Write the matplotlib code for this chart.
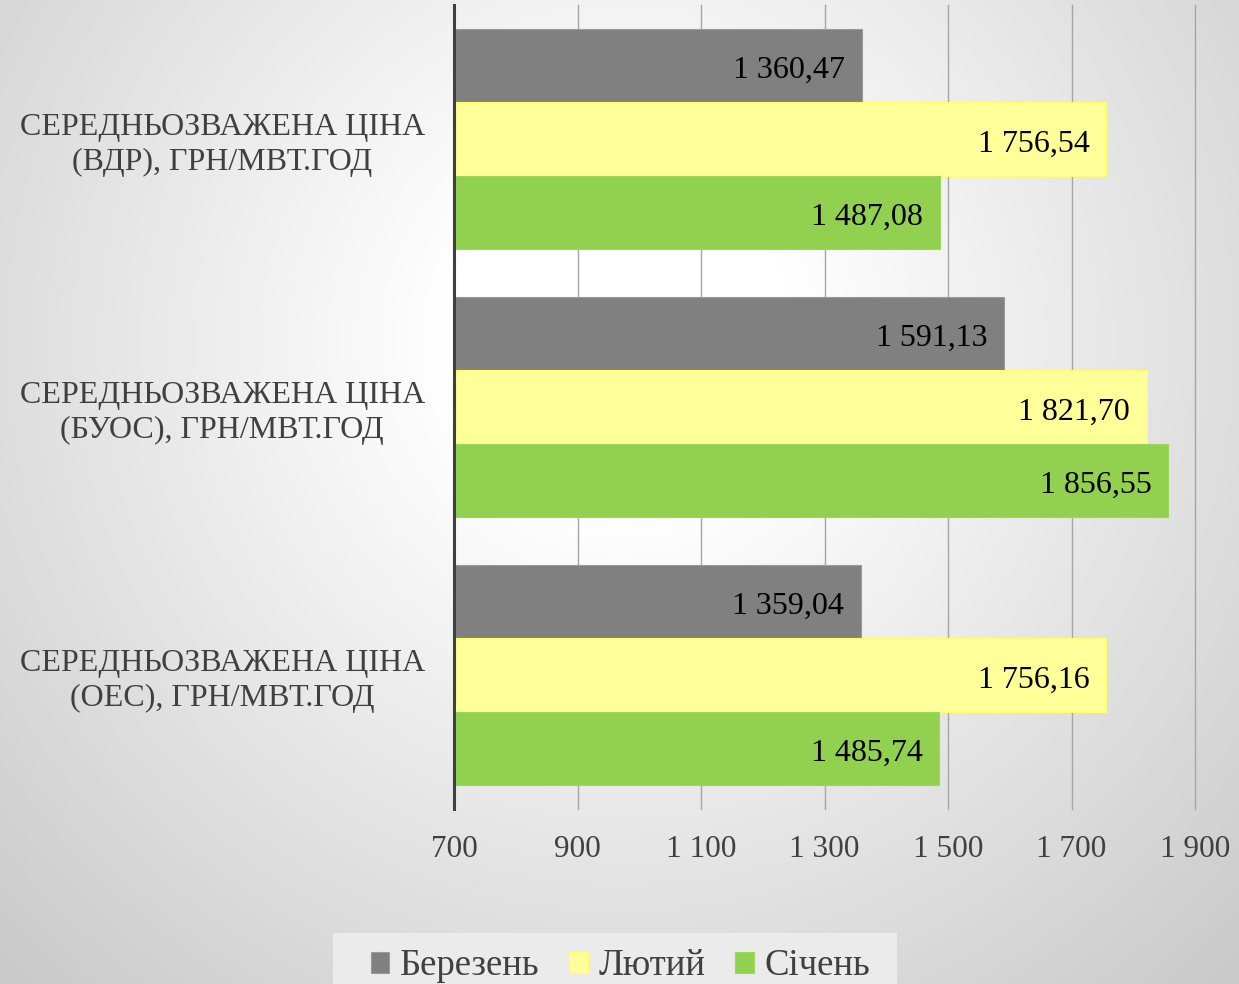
import numpy as np
import matplotlib
matplotlib.use("Agg")
import matplotlib.pyplot as plt
from matplotlib.patches import Patch, Rectangle

plt.rcParams['font.family'] = ['Liberation Serif', 'DejaVu Serif']

categories = ["СЕРЕДНЬОЗВАЖЕНА ЦІНА\n(ВДР), ГРН/МВТ.ГОД",
              "СЕРЕДНЬОЗВАЖЕНА ЦІНА\n(БУОС), ГРН/МВТ.ГОД",
              "СЕРЕДНЬОЗВАЖЕНА ЦІНА\n(ОЕС), ГРН/МВТ.ГОД"]
series_names = ["Березень", "Лютий", "Січень"]
berezen = [1360.47, 1591.13, 1359.04]
lyutyi = [1756.54, 1821.70, 1756.16]
sichen = [1487.08, 1856.55, 1485.74]
xticks = [700, 900, 1100, 1300, 1500, 1700, 1900]

colors = ['#808080', '#FFFF99', '#92D050']
edges = ['#9a9a9a', '#ffff66', '#9ad85a']

W, H = 1239, 984
fig = plt.figure(figsize=(W / 100, H / 100), dpi=100)

# background radial gradient
bg = fig.add_axes([0, 0, 1, 1], zorder=-10)
yy, xx = np.mgrid[0:H, 0:W]
d = np.sqrt((xx - 620) ** 2 + (yy - 340) ** 2)
v = np.clip(268 - 0.075 * d, 0, 255) / 255.0
bg.imshow(np.dstack([v, v, v]), extent=[0, 1, 0, 1], aspect='auto', origin='upper')
bg.axis('off')

ax = fig.add_axes([454 / W, 1 - 809 / H, (1195 - 454) / W, (809 - 5) / H])
ax.set_facecolor('none')

y = np.arange(len(categories))
h = 0.274
for i, (vals, name) in enumerate(zip([berezen, lyutyi, sichen], series_names)):
    pos = y + (i - 1) * h
    ax.barh(pos, vals, height=h, color=colors[i], edgecolor=edges[i], linewidth=0.8, zorder=3, label=name)
    for p, val in zip(pos, vals):
        txt = f"{val:,.2f}".replace(',', ' ').replace('.', ',')
        ax.annotate(txt, xy=(val, p), xytext=(-12, -3.5), textcoords='offset points',
                    ha='right', va='center', fontsize=23, color='black', zorder=5)

ax.set_xlim(700, 1900)
ax.set_ylim(2.5, -0.5)
ax.set_xticks(xticks)
ax.set_xticklabels([f"{t:,}".replace(',', ' ') for t in xticks])
ax.set_yticks(y)
ax.set_yticklabels(categories)
for t in ax.get_yticklabels():
    t.set_multialignment('center')
    t.set_linespacing(1.25)
ax.tick_params(axis='x', length=0, pad=19, labelsize=22.5, labelcolor='#404040')
ax.tick_params(axis='y', length=0, pad=21, labelsize=23, labelcolor='#404040')

ax.grid(axis='x', color='#a6a6a6', linewidth=1, zorder=0)
for gl in ax.xaxis.get_gridlines():
    gl.set_clip_on(False)
ax.set_axisbelow(True)
for s in ['top', 'right', 'bottom']:
    ax.spines[s].set_visible(False)
ax.spines['left'].set_color('#404040')
ax.spines['left'].set_linewidth(2.2)
ax.spines['left'].set_zorder(4)

# legend background box
fig.patches.append(Rectangle((333 / W, 0), (897 - 333) / W, 1 - 933 / H, transform=fig.transFigure,
                             facecolor='#ebebeb', edgecolor='none', zorder=0))

handles = [Patch(facecolor=colors[i], edgecolor=edges[i], linewidth=0.8) for i in range(3)]
leg = fig.legend(handles, series_names, loc='center', bbox_to_anchor=(0.501, 1 - 966 / H),
                 ncol=3, fontsize=26.5, frameon=False,
                 handlelength=0.5, handleheight=0.5, handletextpad=0.3, columnspacing=0.8,
                 borderpad=0.0, labelcolor='#404040')

fig.savefig('out.png', dpi=100)
